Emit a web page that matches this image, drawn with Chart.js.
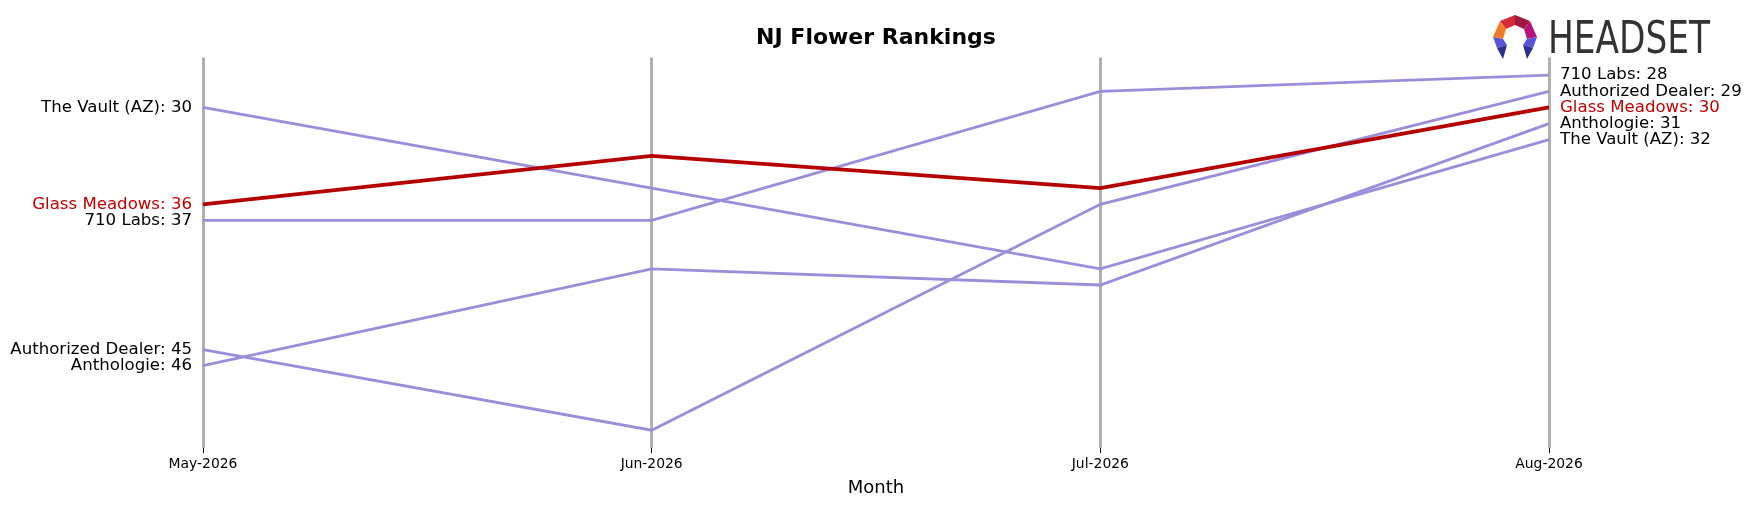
<!DOCTYPE html>
<html>
<head>
<meta charset="utf-8">
<script src="https://cdn.jsdelivr.net/npm/chart.js@4.4.1/dist/chart.umd.min.js"></script>
<style>
  html, body { margin: 0; padding: 0; background: #ffffff; }
  #wrap { width: 1751px; height: 506px; }
</style>
</head>
<body>
<div id="wrap"><canvas id="rankChart" width="1751" height="506"></canvas></div>
<script>
// ---- Data ----
const months = ['May-2026', 'Jun-2026', 'Jul-2026', 'Aug-2026'];
const brandNames = ['The Vault (AZ)', '710 Labs', 'Authorized Dealer', 'Anthologie', 'Glass Meadows'];
const theVault = [30, 35, 40, 32];
const labs710 = [37, 37, 29, 28];
const authorizedDealer = [45, 50, 36, 29];
const anthologie = [46, 40, 41, 31];
const glassMeadows = [36, 33, 35, 30];
const highlight = 'Glass Meadows';

const seriesValues = [theVault, labs710, authorizedDealer, anthologie, glassMeadows];

const PURPLE = '#9a8edb';
const RED = '#b50000';
const LABEL_RED = '#c00000';
const FONT = '"DejaVu Sans", "Liberation Sans", sans-serif';

const datasets = brandNames.map((name, i) => {
  const isHi = name === highlight;
  return {
    label: name,
    data: seriesValues[i],
    borderColor: isHi ? RED : PURPLE,
    borderWidth: isHi ? 3.8 : 2.8,
    pointRadius: 0,
    tension: 0,
    fill: false,
    order: isHi ? 0 : 1
  };
});

// side labels: first and last value of every line
const sideLabels = {
  id: 'sideLabels',
  afterDatasetsDraw(chart) {
    const ctx = chart.ctx;
    const x = chart.scales.x;
    const y = chart.scales.y;
    const last = months.length - 1;
    ctx.save();
    ctx.font = '16.6px ' + FONT;
    ctx.textBaseline = 'middle';
    chart.data.datasets.forEach(ds => {
      ctx.fillStyle = ds.label === highlight ? LABEL_RED : '#000000';
      ctx.textAlign = 'right';
      ctx.fillText(ds.label + ': ' + ds.data[0], x.getPixelForValue(0) - 11, y.getPixelForValue(ds.data[0]));
      ctx.textAlign = 'left';
      ctx.fillText(ds.label + ': ' + ds.data[last], x.getPixelForValue(last) + 11, y.getPixelForValue(ds.data[last]));
    });
    ctx.restore();
  }
};

// Headset logo, top right
const logo = {
  id: 'logo',
  afterDraw(chart) {
    const ctx = chart.ctx;
    const ox = 1493, oy = 15;
    const parts = [
      [[[22,0],[7,6],[13,14],[22,10]], '#d42a3a'],
      [[[22,0],[37,6],[31,14],[22,10]], '#9e1a40'],
      [[[7,6],[0,22],[10,24],[13,14]], '#f07c2a'],
      [[[37,6],[44,22],[34,24],[31,14]], '#b5157a'],
      [[[0,22],[4,33],[14,30],[10,24]], '#5a55d8'],
      [[[4,33],[10,44],[14,30]], '#2b2f8f'],
      [[[44,22],[40,33],[30,30],[34,24]], '#5a55d8'],
      [[[40,33],[34,44],[30,30]], '#2b2f8f']
    ];
    ctx.save();
    parts.forEach(([pts, col]) => {
      ctx.beginPath();
      pts.forEach((p, i) => i ? ctx.lineTo(ox + p[0], oy + p[1]) : ctx.moveTo(ox + p[0], oy + p[1]));
      ctx.closePath();
      ctx.fillStyle = col;
      ctx.fill();
    });
    ctx.font = '45px "DejaVu Sans Condensed", "Liberation Sans Narrow", "DejaVu Sans", sans-serif';
    ctx.textBaseline = 'alphabetic';
    ctx.textAlign = 'left';
    const w = ctx.measureText('HEADSET').width;
    ctx.translate(1548, 52.5);
    ctx.scale(162 / w, 1);
    ctx.fillStyle = '#333333';
    ctx.fillText('HEADSET', 0, 0);
    ctx.restore();
  }
};

new Chart(document.getElementById('rankChart').getContext('2d'), {
  type: 'line',
  data: { labels: months, datasets },
  options: {
    responsive: false,
    animation: false,
    layout: { padding: { left: 203, right: 202, top: 0, bottom: 0 } },
    plugins: {
      legend: { display: false },
      tooltip: { enabled: false },
      title: {
        display: true,
        text: 'NJ Flower Rankings',
        color: '#000000',
        font: { family: FONT, size: 22, weight: 'bold' },
        padding: { top: 25, bottom: 6 }
      }
    },
    scales: {
      x: {
        offset: false,
        border: { display: false },
        grid: { color: '#b0b0b0', lineWidth: 3, tickColor: '#000000', tickWidth: 1, tickLength: 5 },
        ticks: { color: '#000000', font: { family: FONT, size: 13.9 }, padding: 3, maxRotation: 0 },
        title: {
          display: true,
          text: 'Month',
          color: '#000000',
          font: { family: FONT, size: 18 },
          padding: { top: 4, bottom: 7 }
        },
        afterFit(scale) { scale.height = 58; }
      },
      y: {
        display: false,
        reverse: true,
        min: 26.9,
        max: 51.1
      }
    }
  },
  plugins: [sideLabels, logo]
});
</script>
</body>
</html>
